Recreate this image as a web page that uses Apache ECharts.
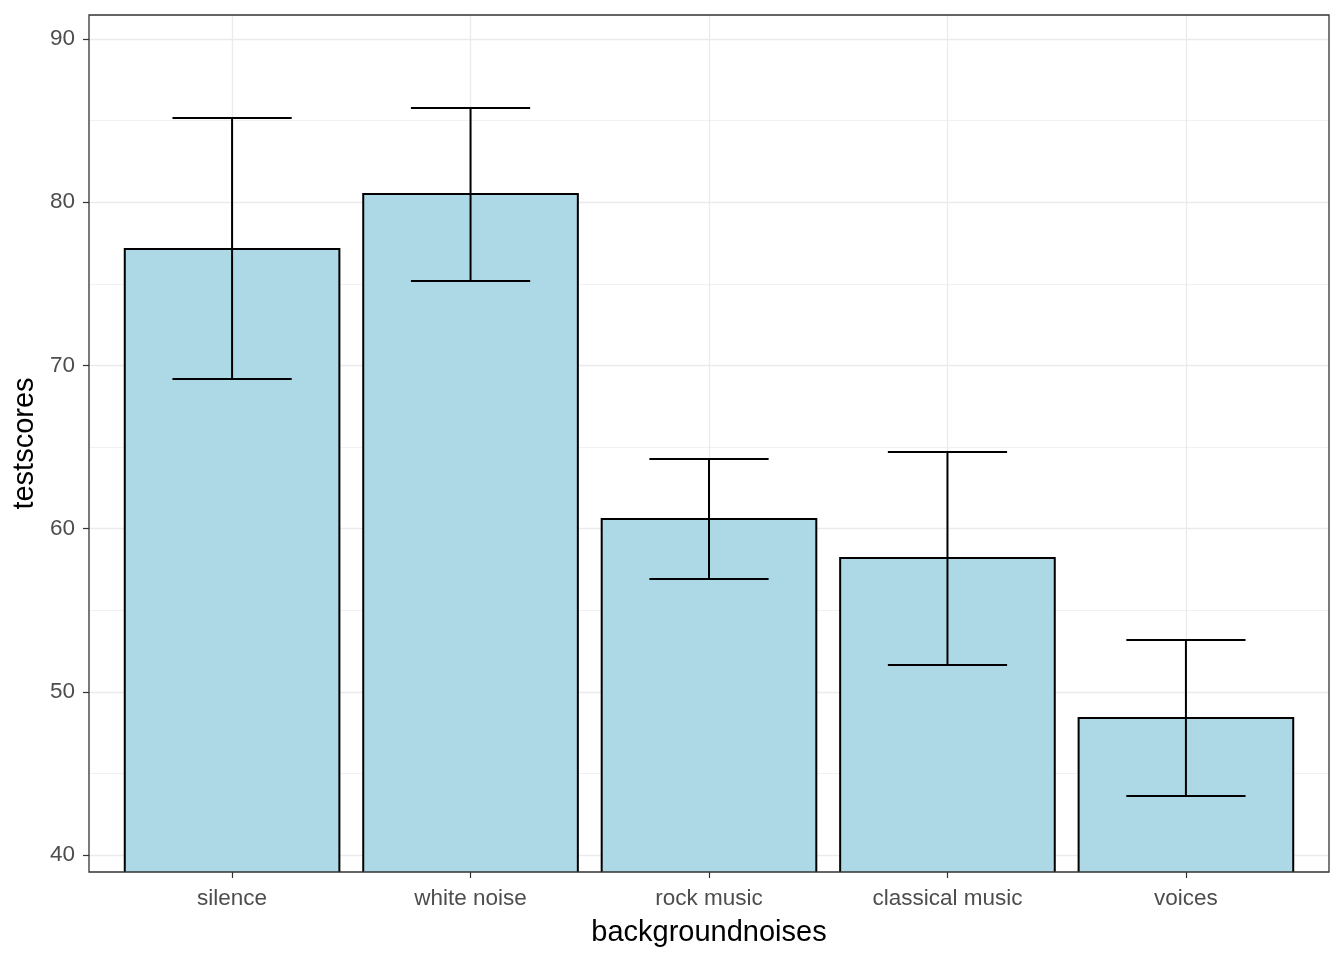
<!DOCTYPE html>
<html>
<head>
<meta charset="utf-8">
<script src="https://cdn.jsdelivr.net/npm/echarts@6/dist/echarts.min.js"></script>
<style>html,body{margin:0;padding:0;background:#fff}#c{width:1344px;height:960px}</style>
</head>
<body>
<div id="c"></div>
<script>
const categories = ['silence', 'white noise', 'rock music', 'classical music', 'voices'];
const means = [77.13, 80.5, 60.59, 58.2, 48.39];
const upper = [85.16, 85.77, 64.26, 64.69, 53.17];
const lower = [69.17, 75.17, 56.91, 51.64, 43.62];
const yTicks = [40, 50, 60, 70, 80, 90];
const yMinor = [45, 55, 65, 75, 85];

const xPos = categories.map((c, i) => i + 1);
const Y_MIN = 38.96, Y_MAX = 91.47;

const chart = echarts.init(document.getElementById('c'));
const font = 'Liberation Sans, Arial, sans-serif';

const barData = categories.map((c, i) => [i + 1, means[i]]);
const errData = categories.map((c, i) => [i + 1, lower[i], upper[i]]);

const gridLines = [];
yMinor.forEach(v => gridLines.push({ yAxis: v, lineStyle: { color: '#EBEBEB', width: 0.7, type: 'solid' } }));
yTicks.forEach(v => gridLines.push({ yAxis: v, lineStyle: { color: '#EBEBEB', width: 1.3, type: 'solid' } }));
xPos.forEach(v => gridLines.push({ xAxis: v, lineStyle: { color: '#EBEBEB', width: 1.3, type: 'solid' } }));

chart.setOption({
  backgroundColor: '#fff',
  animation: false,
  grid: { left: 89, right: 15, top: 15, bottom: 88, show: true, borderColor: '#333333', borderWidth: 1.3, backgroundColor: 'transparent', z: 10 },
  xAxis: {
    type: 'value', min: 0.4, max: 5.6,
    name: 'backgroundnoises', nameLocation: 'middle', nameGap: 46,
    nameTextStyle: { color: '#000', fontSize: 29, fontFamily: font },
    axisLine: { show: false },
    splitLine: { show: false },
    axisTick: { show: true, customValues: xPos, length: 6, lineStyle: { color: '#333333', width: 1.2 } },
    axisLabel: { customValues: xPos, color: '#4D4D4D', fontSize: 22.5, fontFamily: font, margin: 15,
      formatter: v => categories[Math.round(v) - 1] || '' }
  },
  yAxis: {
    type: 'value', min: Y_MIN, max: Y_MAX,
    name: 'testscores', nameLocation: 'middle', nameGap: 46,
    nameTextStyle: { color: '#000', fontSize: 29, fontFamily: font },
    axisLine: { show: false },
    splitLine: { show: false },
    axisTick: { show: true, customValues: yTicks, length: 6, lineStyle: { color: '#333333', width: 1.2 } },
    axisLabel: { customValues: yTicks, color: '#4D4D4D', fontSize: 22.5, fontFamily: font, margin: 14, padding: [3, 0, 0, 0] }
  },
  series: [
    {
      type: 'line', data: [], silent: true, z: 1,
      markLine: { silent: true, z: 1, symbol: 'none', label: { show: false }, animation: false, data: gridLines }
    },
    {
      type: 'custom', z: 3, clip: true,
      data: barData,
      renderItem: (params, api) => {
        const x = api.value(0), v = api.value(1);
        const w = api.size([0.9, 0])[0];
        const top = api.coord([x, v]);
        const bot = api.coord([x, Y_MIN - 2]);
        return {
          type: 'rect',
          shape: { x: top[0] - w / 2, y: top[1], width: w, height: bot[1] - top[1] },
          style: { fill: '#ADD8E6', stroke: '#000', lineWidth: 2 }
        };
      }
    },
    {
      type: 'custom', z: 4, clip: true,
      data: errData,
      renderItem: (params, api) => {
        const x = api.value(0);
        const lo = api.coord([x, api.value(1)]);
        const hi = api.coord([x, api.value(2)]);
        const hw = api.size([0.25, 0])[0];
        const st = { stroke: '#000', lineWidth: 2 };
        return {
          type: 'group',
          children: [
            { type: 'line', shape: { x1: lo[0], y1: lo[1], x2: hi[0], y2: hi[1] }, style: st },
            { type: 'line', shape: { x1: lo[0] - hw, y1: lo[1], x2: lo[0] + hw, y2: lo[1] }, style: st },
            { type: 'line', shape: { x1: hi[0] - hw, y1: hi[1], x2: hi[0] + hw, y2: hi[1] }, style: st }
          ]
        };
      }
    }
  ]
});
</script>
</body>
</html>
